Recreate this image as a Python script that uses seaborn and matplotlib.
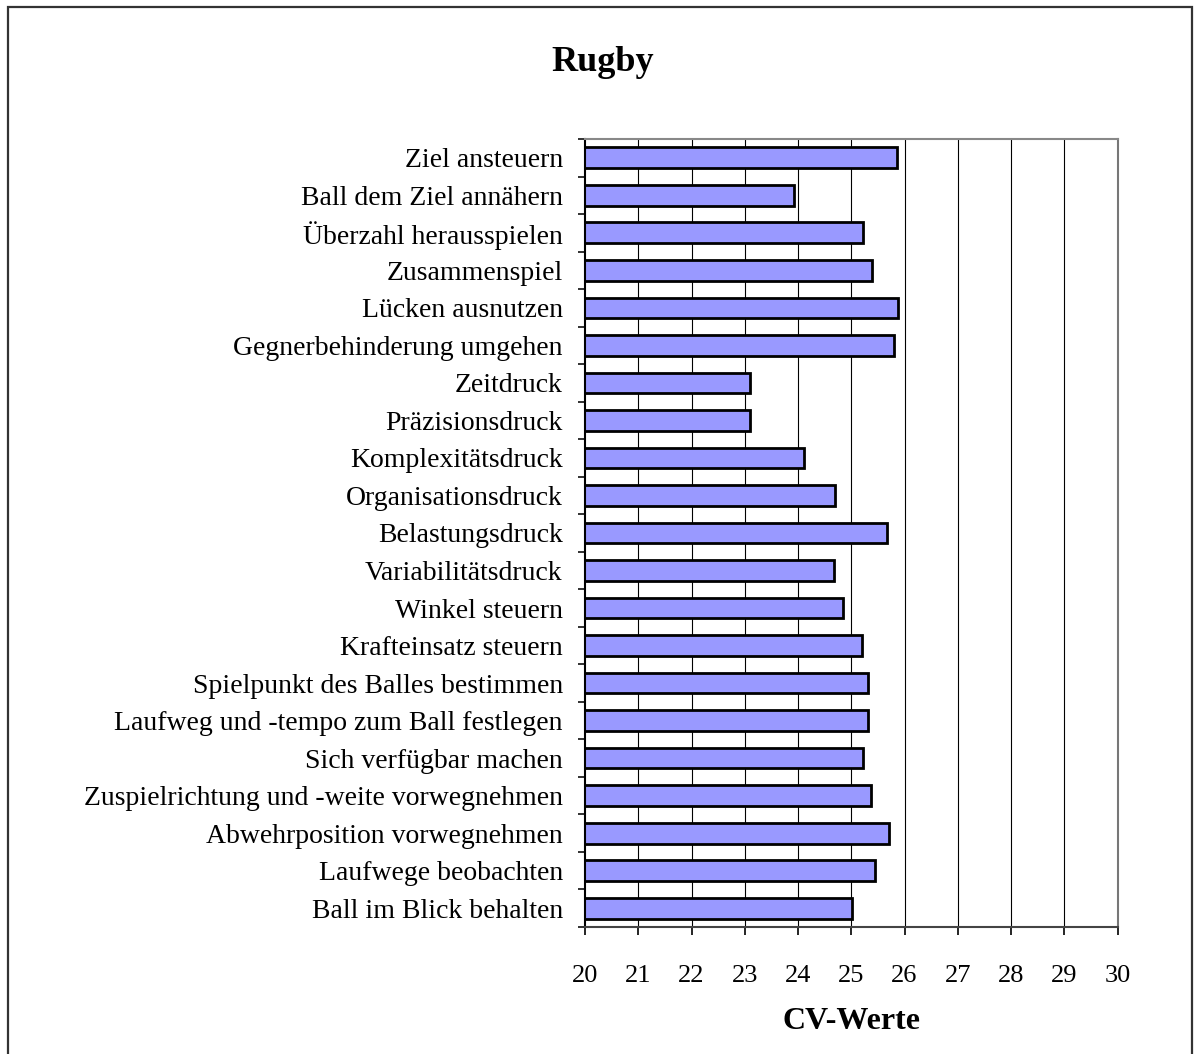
import matplotlib
matplotlib.use("Agg")
import matplotlib.pyplot as plt
import seaborn as sns
import pandas as pd
import numpy as np

# data (top to bottom)
categories = [
    "Ziel ansteuern",
    "Ball dem Ziel annähern",
    "Überzahl herausspielen",
    "Zusammenspiel",
    "Lücken ausnutzen",
    "Gegnerbehinderung umgehen",
    "Zeitdruck",
    "Präzisionsdruck",
    "Komplexitätsdruck",
    "Organisationsdruck",
    "Belastungsdruck",
    "Variabilitätsdruck",
    "Winkel steuern",
    "Krafteinsatz steuern",
    "Spielpunkt des Balles bestimmen",
    "Laufweg und -tempo zum Ball festlegen",
    "Sich verfügbar machen",
    "Zuspielrichtung und -weite vorwegnehmen",
    "Abwehrposition vorwegnehmen",
    "Laufwege beobachten",
    "Ball im Blick behalten",
]
cv_values = [25.86, 23.92, 25.22, 25.39, 25.87, 25.81, 23.10, 23.10, 24.11, 24.69,
             25.67, 24.68, 24.84, 25.21, 25.31, 25.31, 25.23, 25.37, 25.71, 25.45, 25.01]
x_ticks = list(range(20, 31))

sns.set_theme(style="white")
plt.rcParams["font.family"] = ["Liberation Serif", "DejaVu Serif"]
plt.rcParams["text.color"] = "black"
plt.rcParams["axes.labelcolor"] = "black"
plt.rcParams["xtick.color"] = "black"
plt.rcParams["ytick.color"] = "black"

df = pd.DataFrame({"Kategorie": categories, "CV": cv_values})

fig = plt.figure(figsize=(11.96, 10.54), dpi=100)
ax = fig.add_axes([585 / 1196, 1 - 927 / 1054, (1117.5 - 585) / 1196, (927 - 139) / 1054])

# vertical grid lines under the bars
for xv in x_ticks[1:-1]:
    ax.axvline(xv, color="black", lw=0.8, zorder=0)

sns.barplot(data=df, x="CV", y="Kategorie", orient="h", color="#9999FF",
            saturation=1, width=0.55, edgecolor="black", linewidth=2.0,
            ax=ax, zorder=2)

ax.set_xlim(20, 30)
ax.set_ylim(len(categories) - 0.5, -0.5)
ax.set_xticks(x_ticks)
ax.set_xticklabels([str(t) for t in x_ticks], fontsize=19)
ax.set_yticks(np.arange(len(categories)))
ax.set_yticklabels(categories, fontsize=20)
ax.set_yticks(np.arange(len(categories) + 1) - 0.5, minor=True)
ax.tick_params(axis="y", which="major", length=0, pad=16)
ax.tick_params(axis="y", which="minor", left=True, length=5, width=1.3, color="#222222", direction="out")
ax.tick_params(axis="x", which="major", bottom=True, length=6, width=1.2,
               direction="out", pad=21)

ax.set_ylabel("")
ax.set_xlabel("CV-Werte", fontsize=23, fontweight="bold", labelpad=15)

for side in ["left", "bottom", "top", "right"]:
    ax.spines[side].set_visible(True)
ax.spines["left"].set_color("black")
ax.spines["left"].set_linewidth(1.5)
ax.spines["bottom"].set_color("#444444")
ax.spines["bottom"].set_linewidth(1.5)
ax.spines["top"].set_color("#888888")
ax.spines["top"].set_linewidth(1.5)
ax.spines["right"].set_color("#777777")
ax.spines["right"].set_linewidth(1.5)

fig.text(603 / 1196, 1 - 71 / 1054, "Rugby", fontsize=26, fontweight="bold",
         ha="center", va="baseline", color="black")

# outer frame of the chart
frame = plt.Rectangle((8 / 1196, -0.01), (1192 - 8) / 1196, 1.01 - 7 / 1054,
                      transform=fig.transFigure, fill=False, edgecolor="#333333", lw=1.6)
fig.patches.append(frame)

fig.savefig("out.png", dpi=100)
